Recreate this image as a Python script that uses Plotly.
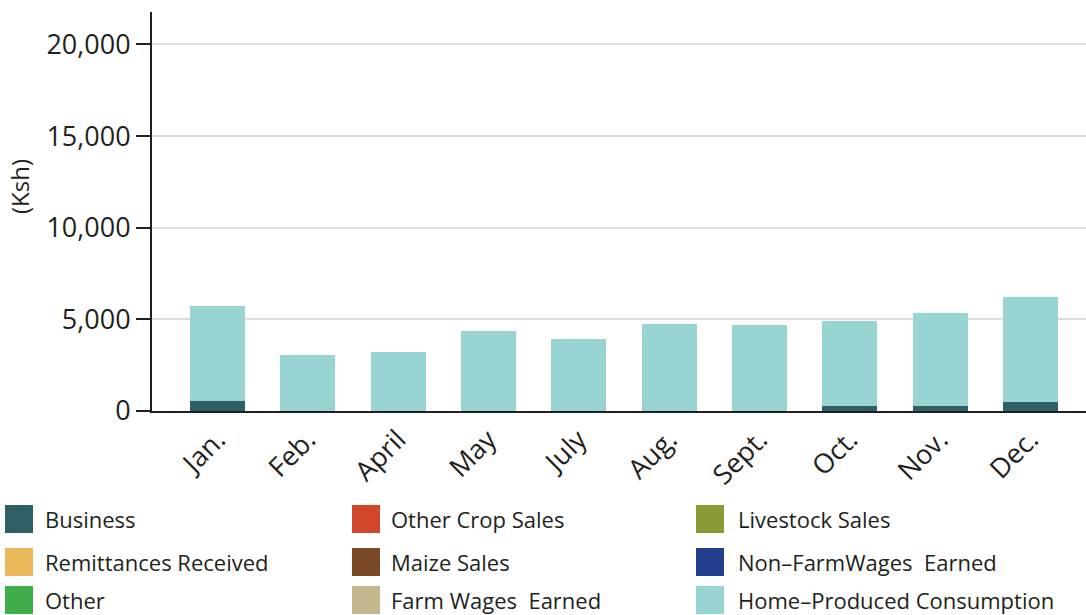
import plotly.graph_objects as go

# ---- data ----
months = ["Jan.", "Feb.", "April", "May", "July", "Aug.", "Sept.", "Oct.", "Nov.", "Dec."]

business = [530, 0, 0, 0, 0, 0, 0, 260, 260, 480]
other_crop_sales = [0, 0, 0, 0, 0, 0, 0, 0, 0, 0]
livestock_sales = [0, 0, 0, 0, 0, 0, 0, 0, 0, 0]
remittances_received = [0, 0, 0, 0, 0, 0, 0, 0, 0, 0]
maize_sales = [0, 0, 0, 0, 0, 0, 0, 0, 0, 0]
non_farm_wages = [0, 0, 0, 0, 0, 0, 0, 0, 0, 0]
other = [0, 0, 0, 0, 0, 0, 0, 0, 0, 0]
farm_wages = [0, 0, 0, 0, 0, 0, 0, 0, 0, 0]
home_produced = [5200, 3050, 3210, 4350, 3920, 4740, 4700, 4640, 5090, 5720]

y_ticks = [0, 5000, 10000, 15000, 20000]
y_tick_labels = ["0", "5,000", "10,000", "15,000", "20,000"]

series = [
    ("Business", business, "#2f6066"),
    ("Other Crop Sales", other_crop_sales, "#d1472b"),
    ("Livestock Sales", livestock_sales, "#8b9a35"),
    ("Remittances Received", remittances_received, "#e8b85a"),
    ("Maize Sales", maize_sales, "#7a4a28"),
    ("Non\u2013FarmWages  Earned", non_farm_wages, "#253f8f"),
    ("Other", other, "#3fad49"),
    ("Farm Wages  Earned", farm_wages, "#c4b88f"),
    ("Home\u2013Produced Consumption", home_produced, "#98d5d2"),
]

FONT = "Open Sans"
TXT = "#231f20"

W, H = 1086, 615
ML, MR, MT, MB = 152, 0, 12, 204
PW, PH = W - ML - MR, H - MT - MB


def px2paper_x(px):
    return (px - ML) / PW


def px2paper_y(py):
    return (H - MB - py) / PH


fig = go.Figure()
for name, vals, col in series:
    fig.add_trace(go.Bar(x=months, y=vals, name=name, marker=dict(color=col, line=dict(width=0)),
                         showlegend=False))

# manual legend (3 columns, row-major)
shapes = []
annotations = []
col_sq_x = [5, 352, 696]
col_tx_x = [43, 389, 736]
row_y = [519, 562, 600]
for i, (name, vals, col) in enumerate(series):
    r, c = divmod(i, 3)
    x0 = col_sq_x[c]
    yc = row_y[r]
    shapes.append(dict(type="rect", xref="paper", yref="paper",
                       x0=px2paper_x(x0), x1=px2paper_x(x0 + 28),
                       y0=px2paper_y(yc + 14), y1=px2paper_y(yc - 14),
                       fillcolor=col, line=dict(width=0), layer="above"))
    annotations.append(dict(text=name, xref="paper", yref="paper",
                            x=px2paper_x(col_tx_x[c]), y=px2paper_y(yc),
                            xanchor="left", yanchor="middle", showarrow=False,
                            font=dict(family=FONT, size=22, color=TXT)))

annotations.append(dict(text="(Ksh)", xref="paper", yref="paper",
                        x=px2paper_x(19), y=px2paper_y(187), textangle=-90,
                        xanchor="center", yanchor="middle", showarrow=False,
                        font=dict(family=FONT, size=24, color=TXT)))

fig.update_layout(
    barmode="stack",
    bargap=0.39,
    width=W, height=H,
    margin=dict(l=ML, r=MR, t=MT, b=MB, pad=0),
    paper_bgcolor="white", plot_bgcolor="white",
    font=dict(family=FONT, color=TXT),
    shapes=shapes,
    annotations=annotations,
    xaxis=dict(
        range=[-0.725, 9.615],
        tickangle=-45,
        tickfont=dict(family=FONT, size=27, color=TXT),
        showline=True, linecolor=TXT, linewidth=2,
        ticks="", showgrid=False, zeroline=False,
    ),
    yaxis=dict(
        range=[0, 21770],
        tickvals=y_ticks, ticktext=y_tick_labels,
        tickfont=dict(family=FONT, size=27, color=TXT),
        showline=True, linecolor=TXT, linewidth=2,
        ticks="outside", ticklen=14, tickwidth=2, tickcolor=TXT,
        showgrid=True, gridcolor="#dcdcdc", gridwidth=2,
        zeroline=False,
    ),
)

fig.write_html("out.html", config={"displayModeBar": False},
               post_script="document.body.style.margin='0';document.body.style.overflow='hidden';")
